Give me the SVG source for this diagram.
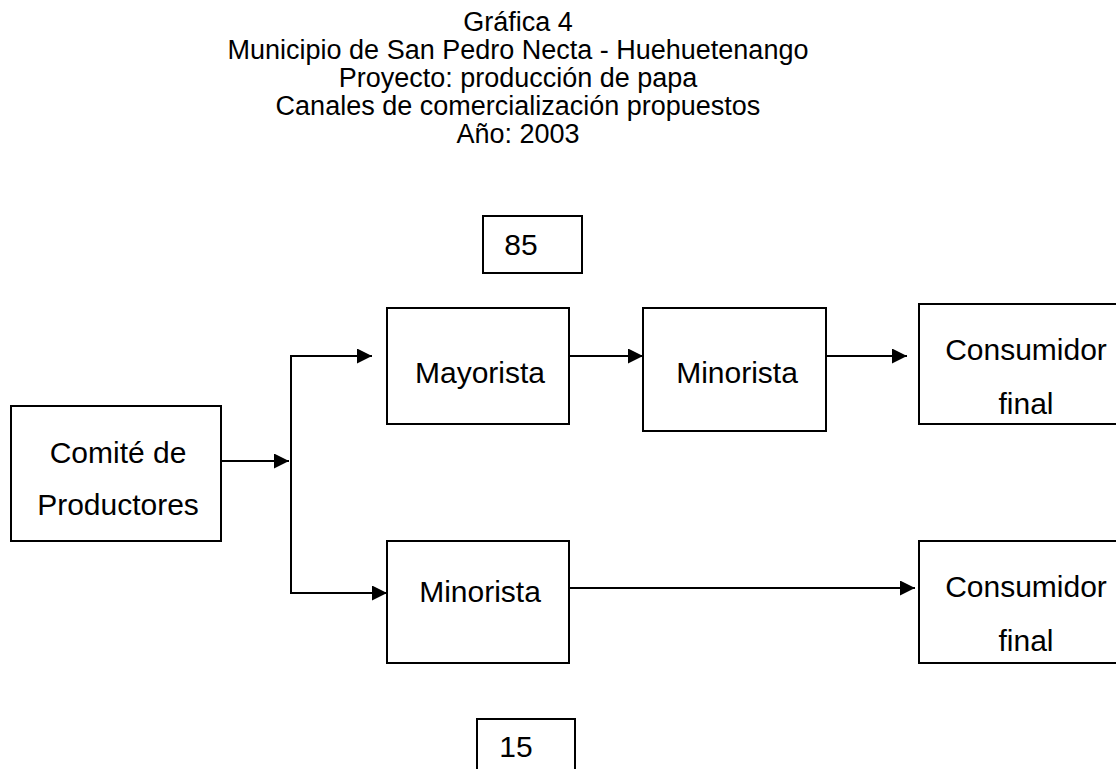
<svg xmlns="http://www.w3.org/2000/svg" width="1116" height="769" viewBox="0 0 1116 769">
<style>
.box{fill:#fff;stroke:#000;stroke-width:2}
.t{font-family:"Liberation Sans",Arial,sans-serif;font-size:30px;fill:#000;text-anchor:middle}
.title{font-family:"Liberation Sans",Arial,sans-serif;font-size:27px;fill:#000;text-anchor:middle}
.c{fill:none;stroke:#000;stroke-width:2}
</style>
<defs>
<marker id="ah" markerUnits="userSpaceOnUse" markerWidth="15" markerHeight="15" refX="15" refY="7.5" orient="auto">
<path d="M0,0 L15,7.5 L0,15 z" fill="#000"/>
</marker>
</defs>
<rect width="1116" height="769" fill="#fff"/>
<g id="title">
<text class="title" x="518" y="31">Gráfica 4</text>
<text class="title" x="518" y="59">Municipio de San Pedro Necta - Huehuetenango</text>
<text class="title" x="518" y="87">Proyecto: producción de papa</text>
<text class="title" x="518" y="115">Canales de comercialización propuestos</text>
<text class="title" x="518" y="143">Año: 2003</text>
</g>
<g id="connectors">
<line class="c" x1="221" y1="461" x2="289" y2="461" marker-end="url(#ah)"/>
<line class="c" x1="291" y1="355" x2="291" y2="594"/>
<line class="c" x1="290" y1="356" x2="372" y2="356" marker-end="url(#ah)"/>
<line class="c" x1="290" y1="593" x2="387" y2="593" marker-end="url(#ah)"/>
<line class="c" x1="569" y1="356" x2="643" y2="356" marker-end="url(#ah)"/>
<line class="c" x1="826" y1="356" x2="907" y2="356" marker-end="url(#ah)"/>
<line class="c" x1="569" y1="588" x2="915" y2="588" marker-end="url(#ah)"/>
</g>
<g id="n85">
<rect class="box" x="483" y="216" width="99" height="57"/>
<text class="t" x="521" y="255">85</text>
</g>
<g id="comite">
<rect class="box" x="11" y="406" width="210" height="135"/>
<text class="t" x="118" y="463">Comité de</text>
<text class="t" x="118" y="515">Productores</text>
</g>
<g id="mayorista">
<rect class="box" x="387" y="308" width="182" height="116"/>
<text class="t" x="480" y="383">Mayorista</text>
</g>
<g id="minorista1">
<rect class="box" x="643" y="308" width="183" height="123"/>
<text class="t" x="737" y="383">Minorista</text>
</g>
<g id="consumidor1">
<rect class="box" x="919" y="304" width="210" height="120"/>
<text class="t" x="1026" y="360">Consumidor</text>
<text class="t" x="1026" y="414">final</text>
</g>
<g id="minorista2">
<rect class="box" x="387" y="541" width="182" height="122"/>
<text class="t" x="480" y="602">Minorista</text>
</g>
<g id="consumidor2">
<rect class="box" x="919" y="541" width="210" height="122"/>
<text class="t" x="1026" y="597">Consumidor</text>
<text class="t" x="1026" y="651">final</text>
</g>
<g id="n15">
<rect class="box" x="477" y="719" width="98" height="70"/>
<text class="t" x="516" y="757">15</text>
</g>
</svg>
